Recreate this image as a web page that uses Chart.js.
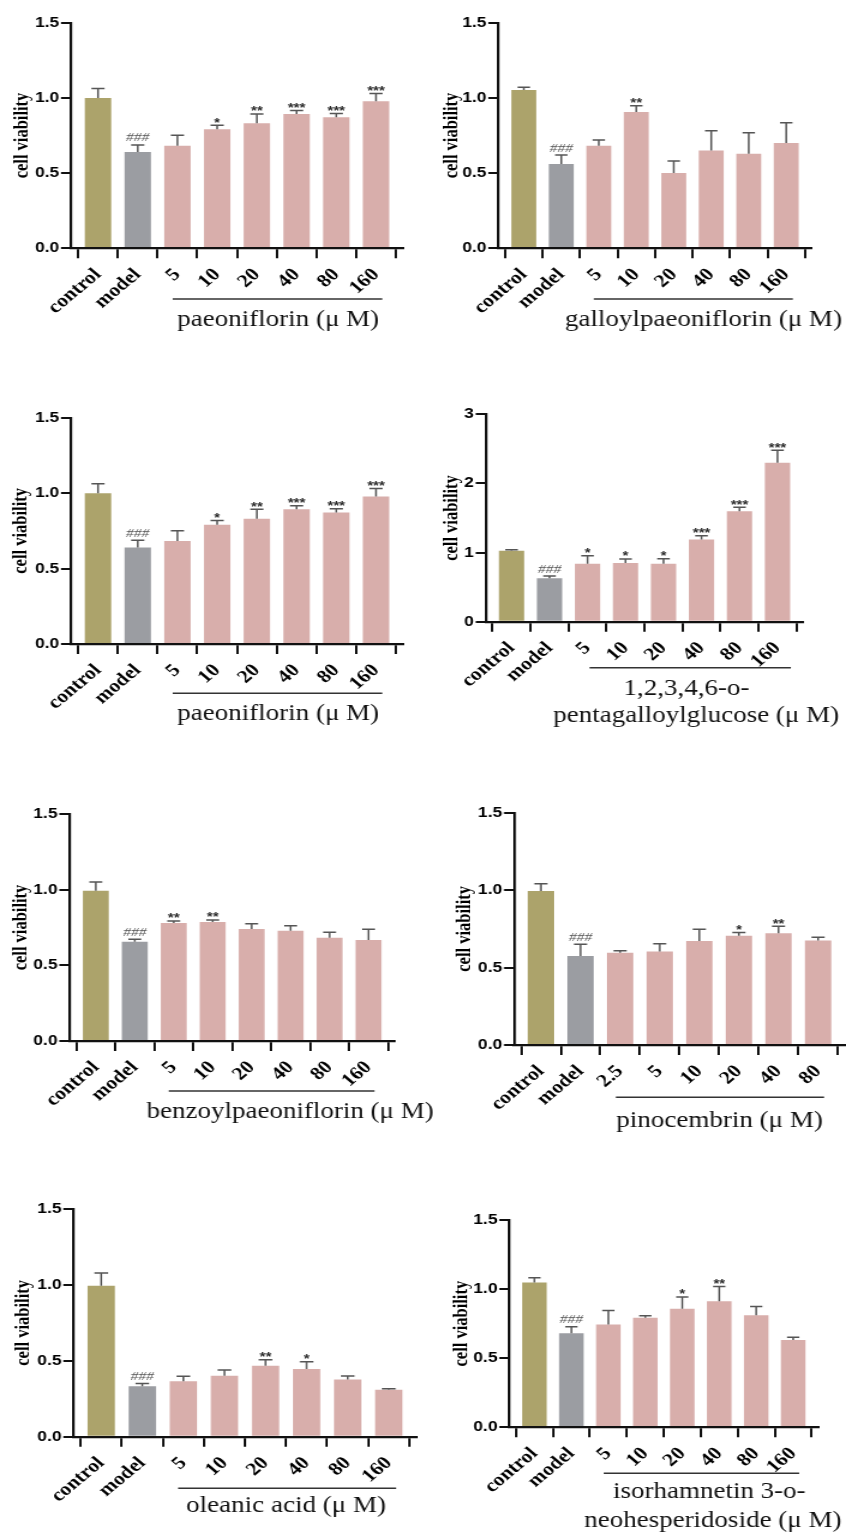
<!DOCTYPE html>
<html>
<head>
<meta charset="utf-8">
<script src="https://cdn.jsdelivr.net/npm/chart.js@4.4.0/dist/chart.umd.min.js"></script>
<style>
  html, body { margin: 0; padding: 0; background: #fff; }
  #figure { position: relative; width: 846px; height: 1533px; overflow: hidden; }
  #figure canvas { position: absolute; }
</style>
</head>
<body>
<div id="figure"></div>
<script>
// the original figure is stretched sideways, so each canvas is drawn narrow and widened by CSS
const S = 1.2;

const groups = ['control', 'model'];
const doses = ['5', '10', '20', '40', '80', '160'];
const pinocembrinDoses = ['2.5', '5', '10', '20', '40', '80'];

// paeoniflorin (shown twice)
const paeoniflorinMean = [1.00, 0.64, 0.682, 0.791, 0.831, 0.893, 0.871, 0.977];
const paeoniflorinSD = [0.063, 0.047, 0.069, 0.027, 0.062, 0.024, 0.026, 0.053];
const paeoniflorinSig = ['', '###', '', '*', '**', '***', '***', '***'];

// galloylpaeoniflorin
const galloylMean = [1.052, 0.561, 0.682, 0.906, 0.50, 0.651, 0.629, 0.70];
const galloylSD = [0.018, 0.059, 0.038, 0.042, 0.08, 0.131, 0.14, 0.135];
const galloylSig = ['', '###', '', '**', '', '', '', ''];

// 1,2,3,4,6-o-pentagalloylglucose
const pggMean = [1.027, 0.627, 0.839, 0.849, 0.839, 1.19, 1.597, 2.30];
const pggSD = [0.015, 0.034, 0.116, 0.058, 0.073, 0.055, 0.058, 0.18];
const pggSig = ['', '###', '*', '*', '*', '***', '***', '***'];

// benzoylpaeoniflorin
const benzoylMean = [0.993, 0.656, 0.78, 0.786, 0.74, 0.729, 0.683, 0.667];
const benzoylSD = [0.057, 0.016, 0.013, 0.014, 0.035, 0.033, 0.035, 0.071];
const benzoylSig = ['', '###', '**', '**', '', '', '', ''];

// pinocembrin
const pinocembrinMean = [0.994, 0.575, 0.596, 0.603, 0.671, 0.706, 0.721, 0.674];
const pinocembrinSD = [0.048, 0.075, 0.013, 0.051, 0.076, 0.021, 0.045, 0.021];
const pinocembrinSig = ['', '###', '', '', '', '*', '**', ''];

// oleanic acid
const oleanicMean = [0.995, 0.332, 0.365, 0.402, 0.468, 0.446, 0.376, 0.31];
const oleanicSD = [0.083, 0.019, 0.033, 0.037, 0.039, 0.048, 0.024, 0.006];
const oleanicSig = ['', '###', '', '', '**', '*', '', ''];

// isorhamnetin 3-o-neohesperidoside
const isorhamnetinMean = [1.047, 0.68, 0.743, 0.793, 0.858, 0.912, 0.81, 0.632];
const isorhamnetinSD = [0.036, 0.048, 0.103, 0.015, 0.085, 0.106, 0.065, 0.019];
const isorhamnetinSig = ['', '###', '', '', '*', '**', '', ''];

const OLIVE = '#aca36b', GREY = '#9b9da2', PINK = '#d8aeab';
const SERIF = "'Liberation Serif', 'Times New Roman', serif";
const SANS = "'Liberation Sans', Arial, sans-serif";

// layout of each panel in page pixels
const panels = [
  { mean: paeoniflorinMean, sd: paeoniflorinSD, sig: paeoniflorinSig, doses: doses, yMax: 1.5, yStep: 0.5,
    title: ['paeoniflorin (μ M)'],
    box: { L: 0, T: 5, R: 415, B: 340 }, yAxisX: 71, xRight: 403, yTop: 22.7, y0: 248.3, yTitleX: 22,
    lineDy: 50.7, lineA: -4.7, lineB: 6.3, textDx: [1.5], textDy: 27, lineGap: 27 },
  { mean: galloylMean, sd: galloylSD, sig: galloylSig, doses: doses, yMax: 1.5, yStep: 0.5,
    title: ['galloylpaeoniflorin (μ M)'],
    box: { L: 420, T: 5, R: 846, B: 340 }, yAxisX: 498.3, xRight: 811.7, yTop: 22.7, y0: 248.3, yTitleX: 451.7,
    lineDy: 50.7, lineA: -5, lineB: 6.6, textDx: [11], textDy: 27, lineGap: 27 },
  { mean: paeoniflorinMean, sd: paeoniflorinSD, sig: paeoniflorinSig, doses: doses, yMax: 1.5, yStep: 0.5,
    title: ['paeoniflorin (μ M)'],
    box: { L: 0, T: 400, R: 415, B: 735 }, yAxisX: 71, xRight: 403, yTop: 417.7, y0: 644, yTitleX: 21.7,
    lineDy: 49.3, lineA: -4.7, lineB: 6.3, textDx: [1.5], textDy: 27, lineGap: 27 },
  { mean: pggMean, sd: pggSD, sig: pggSig, doses: doses, yMax: 3, yStep: 1,
    title: ['1,2,3,4,6-o-', 'pentagalloylglucose (μ M)'],
    box: { L: 420, T: 395, R: 846, B: 735 }, yAxisX: 485.7, xRight: 803.3, yTop: 414.3, y0: 621.7, yTitleX: 451.7,
    lineDy: 46, lineA: 2, lineB: 13.4, textDx: [4, 13.7], textDy: 27.3, lineGap: 26.7 },
  { mean: benzoylMean, sd: benzoylSD, sig: benzoylSig, doses: doses, yMax: 1.5, yStep: 0.5,
    title: ['benzoylpaeoniflorin (μ M)'],
    box: { L: 0, T: 790, R: 440, B: 1130 }, yAxisX: 69.3, xRight: 395, yTop: 814, y0: 1041, yTitleX: 21.7,
    lineDy: 50, lineA: -5, lineB: 6, textDx: [19], textDy: 27, lineGap: 27 },
  { mean: pinocembrinMean, sd: pinocembrinSD, sig: pinocembrinSig, doses: pinocembrinDoses, yMax: 1.5, yStep: 0.5,
    title: ['pinocembrin (μ M)'],
    box: { L: 440, T: 790, R: 846, B: 1140 }, yAxisX: 514, xRight: 845, yTop: 812.7, y0: 1045, yTitleX: 465,
    lineDy: 52.3, lineA: -4.3, lineB: 6, textDx: [0.5], textDy: 30, lineGap: 27 },
  { mean: oleanicMean, sd: oleanicSD, sig: oleanicSig, doses: doses, yMax: 1.5, yStep: 0.5,
    title: ['oleanic acid (μ M)'],
    box: { L: 0, T: 1180, R: 425, B: 1525 }, yAxisX: 73.3, xRight: 416.7, yTop: 1209, y0: 1436.7, yTitleX: 23.3,
    lineDy: 51.6, lineA: -5.3, lineB: 7.3, textDx: [0], textDy: 24, lineGap: 27 },
  { mean: isorhamnetinMean, sd: isorhamnetinSD, sig: isorhamnetinSig, doses: doses, yMax: 1.5, yStep: 0.5,
    title: ['isorhamnetin 3-o-', 'neohesperidoside (μ M)'],
    box: { L: 425, T: 1190, R: 846, B: 1533 }, yAxisX: 509.3, xRight: 818.3, yTop: 1220, y0: 1427.3, yTitleX: 461.7,
    lineDy: 46, lineA: -4.6, lineB: 6, textDx: [8.5, 12], textDy: 25, lineGap: 28.4 }
];

// error bars, significance marks, dose bracket and compound name
function annotate(p, sx) {
  return {
    id: 'annotate',
    afterDatasetsDraw(chart) {
      const ctx = chart.ctx;
      const y = chart.scales.y;
      const bars = chart.getDatasetMeta(0).data;
      ctx.save();
      bars.forEach((bar, i) => {
        const top = y.getPixelForValue(p.mean[i]);
        const end = y.getPixelForValue(p.mean[i] + p.sd[i]);
        const cap = bar.width * 0.25;
        ctx.strokeStyle = '#555';
        ctx.lineWidth = 1.5;
        ctx.beginPath();
        ctx.moveTo(bar.x, top);
        ctx.lineTo(bar.x, end);
        ctx.moveTo(bar.x - cap, end);
        ctx.lineTo(bar.x + cap, end);
        ctx.stroke();

        const s = p.sig[i];
        if (!s) return;
        ctx.textAlign = 'center';
        ctx.textBaseline = 'alphabetic';
        if (s[0] === '#') {
          ctx.font = 'italic 13px ' + SERIF;
          ctx.fillStyle = '#555';
          ctx.fillText(s, bar.x, end - 3.5);
        } else {
          ctx.font = 'bold 12.5px ' + SANS;
          ctx.fillStyle = '#2b2b2b';
          ctx.fillText(s, bar.x, end + 1.5);
        }
      });
      ctx.restore();
    },
    afterDraw(chart) {
      const ctx = chart.ctx;
      const x = chart.scales.x;
      const base = chart.chartArea.bottom;
      const last = p.mean.length - 1;
      const x1 = x.getPixelForValue(2) + p.lineA / sx;
      const x2 = x.getPixelForValue(last) + p.lineB / sx;
      const mid = (x.getPixelForValue(2) + x.getPixelForValue(last)) / 2;
      ctx.save();
      ctx.strokeStyle = '#333';
      ctx.lineWidth = 1.6;
      ctx.beginPath();
      ctx.moveTo(x1, base + p.lineDy);
      ctx.lineTo(x2, base + p.lineDy);
      ctx.stroke();
      ctx.font = '22.5px ' + SERIF;
      ctx.fillStyle = '#111';
      ctx.textAlign = 'center';
      ctx.textBaseline = 'alphabetic';
      p.title.forEach((line, k) => {
        ctx.fillText(line, mid + p.textDx[k] / sx, base + p.lineDy + p.textDy + k * p.lineGap);
      });
      ctx.restore();
    }
  };
}

const fig = document.getElementById('figure');

panels.forEach((p) => {
  const b = p.box;
  const W = b.R - b.L, H = b.B - b.T;
  const w = Math.round(W / S);
  const sx = W / w;
  const canvas = document.createElement('canvas');
  canvas.width = w;
  canvas.height = H;
  Object.assign(canvas.style, { left: b.L + 'px', top: b.T + 'px', width: W + 'px', height: H + 'px' });
  fig.appendChild(canvas);

  const labels = groups.concat(p.doses);
  const colors = labels.map((_, i) => (i === 0 ? OLIVE : i === 1 ? GREY : PINK));
  const yW = (p.yAxisX - b.L) / sx;
  const xH = b.B - p.y0;
  const tSize = 16.5, tLH = 1.2;

  new Chart(canvas, {
    type: 'bar',
    data: {
      datasets: [{
        data: p.mean.map((v, i) => ({ x: i, y: v })),
        backgroundColor: colors,
        borderWidth: 0,
        barPercentage: 0.665,
        categoryPercentage: 1
      }]
    },
    options: {
      responsive: false,
      animation: false,
      events: [],
      layout: { padding: { left: 0, top: p.yTop - b.T, right: (b.R - p.xRight) / sx, bottom: 0 } },
      plugins: { legend: { display: false }, tooltip: { enabled: false } },
      scales: {
        x: {
          type: 'linear',
          min: -0.68,
          max: labels.length - 1 + 0.68,
          bounds: 'data',
          offset: false,
          afterBuildTicks: (s) => { s.ticks = labels.map((_, i) => ({ value: i })); },
          afterFit: (s) => { s.height = xH; },
          ticks: {
            autoSkip: false, minRotation: 45, maxRotation: 45, padding: 6, color: '#000',
            font: { family: SERIF, weight: 'bold', size: 18 },
            callback: (v) => labels[v]
          },
          grid: { drawOnChartArea: false, tickLength: 10, color: '#111', lineWidth: 2 },
          border: { color: '#111', width: 2.3, z: 1 }
        },
        y: {
          min: 0,
          max: p.yMax,
          afterFit: (s) => { s.width = yW; },
          ticks: {
            stepSize: p.yStep, padding: 1.5, color: '#000',
            font: { family: SANS, weight: 'bold', size: 14.5 },
            callback: (v) => v.toFixed(p.yStep < 1 ? 1 : 0)
          },
          grid: { drawOnChartArea: false, tickLength: 10 / sx, color: '#111', lineWidth: 2 },
          border: { color: '#111', width: 2.2, z: 1 },
          title: {
            display: true, text: 'cell viability', color: '#000',
            font: { family: SERIF, weight: 'bold', size: tSize, lineHeight: tLH },
            padding: { top: (p.yTitleX - b.L) / sx - tSize * tLH / 2, bottom: 0 }
          }
        }
      }
    },
    plugins: [annotate(p, sx)]
  });
});
</script>
</body>
</html>
